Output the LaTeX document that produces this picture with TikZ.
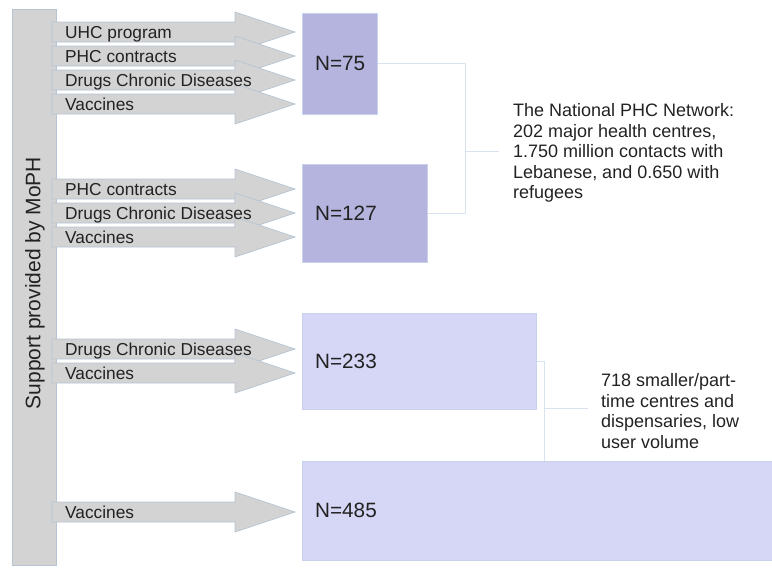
\documentclass[tikz,border=0pt]{standalone}
\usepackage{fontspec}
\setmainfont{Liberation Sans}
\definecolor{arrfill}{HTML}{D3D3D3}
\definecolor{arrline}{HTML}{B6C4D4}
\definecolor{boxdark}{HTML}{B4B4DE}
\definecolor{boxlight}{HTML}{D6D6F6}
\definecolor{boxline}{HTML}{C8D2EA}
\definecolor{connline}{HTML}{D8E2F0}
\definecolor{txt}{HTML}{222222}
\begin{document}
\begin{tikzpicture}[x=1pt,y=-1pt,
  barbox/.style={draw=arrline, line width=0.6pt, fill=arrfill, inner sep=0pt},
  arrowshape/.style={draw=arrline, line width=0.7pt, fill=arrfill},
  lab/.style={font=\fontsize{17.3}{20}\selectfont, text=txt, inner sep=0pt, anchor=base west},
  nbox/.style={draw=boxline, line width=0.6pt, inner sep=0pt, anchor=north west},
  nlab/.style={font=\fontsize{20.7}{24}\selectfont, text=txt, inner sep=0pt, anchor=west},
  note/.style={font=\fontsize{18}{20.4}\selectfont, text=txt, inner sep=0pt, anchor=west, align=left},
  conn/.style={draw=connline, line width=0.9pt},
  blockarr/.pic={\path[arrowshape] (52,-10) -- (235,-10) -- (235,-20) -- (295,0) -- (235,20) -- (235,10) -- (52,10) -- cycle;}
]
\useasboundingbox (0,0) rectangle (772,568);

% vertical bar
\node[barbox, minimum width=44pt, minimum height=556pt, anchor=north west] (bar) at (12,9) {};
\node[rotate=90, font=\fontsize{21}{24}\selectfont, text=txt, inner sep=0pt] (bartext) at (35,283) {Support provided by MoPH};

% arrows
\pic at (0,32) {blockarr};
\pic at (0,56) {blockarr};
\pic at (0,80) {blockarr};
\pic at (0,104) {blockarr};
\pic at (0,189) {blockarr};
\pic at (0,213) {blockarr};
\pic at (0,237) {blockarr};
\pic at (0,349) {blockarr};
\pic at (0,373) {blockarr};
\pic at (0,512) {blockarr};

% arrow labels
\node[lab] (l11) at (65,38) {UHC program};
\node[lab] (l12) at (65,62) {PHC contracts};
\node[lab] (l13) at (65,86) {Drugs Chronic Diseases};
\node[lab] (l14) at (65,110) {Vaccines};
\node[lab] (l21) at (65,195) {PHC contracts};
\node[lab] (l22) at (65,219) {Drugs Chronic Diseases};
\node[lab] (l23) at (65,243) {Vaccines};
\node[lab] (l31) at (65,355) {Drugs Chronic Diseases};
\node[lab] (l32) at (65,379) {Vaccines};
\node[lab] (l41) at (65,518) {Vaccines};

% boxes
\node[nbox, fill=boxdark, minimum width=75pt, minimum height=101pt] (b75) at (302,13) {};
\node[nlab] (t75) at ([xshift=13pt]b75.west) {N=75};
\node[nbox, fill=boxdark, minimum width=125pt, minimum height=98pt] (b127) at (302,164) {};
\node[nlab] (t127) at ([xshift=13pt]b127.west) {N=127};
\node[nbox, fill=boxlight, minimum width=234pt, minimum height=96pt] (b233) at (302,313) {};
\node[nlab] (t233) at ([xshift=13pt]b233.west) {N=233};
\node[nbox, fill=boxlight, minimum width=472pt, minimum height=99pt] (b485) at (302,461) {};
\node[nlab] (t485) at ([xshift=13pt]b485.west) {N=485};

% notes
\node[note] (n1) at (513,153) {The National PHC Network:\\202 major health centres,\\1.750 million contacts with\\Lebanese, and 0.650 with\\refugees};
\node[note] (n2) at (601,411) {718 smaller/part-\\time centres and\\dispensaries, low\\user volume};

% connectors
\coordinate (j1) at (465,151);
\coordinate (e1) at (499,151);
\draw[conn] (b75.east) -- (b75.east -| j1) -- (b127.east -| j1) -- (b127.east);
\draw[conn] (j1) -- (e1);
\coordinate (j2) at (544,408);
\coordinate (e2) at (588,408);
\draw[conn] (b233.east) -- (b233.east -| j2) -- (j2 |- b485.north);
\draw[conn] (j2) -- (e2);
\end{tikzpicture}
\end{document}
